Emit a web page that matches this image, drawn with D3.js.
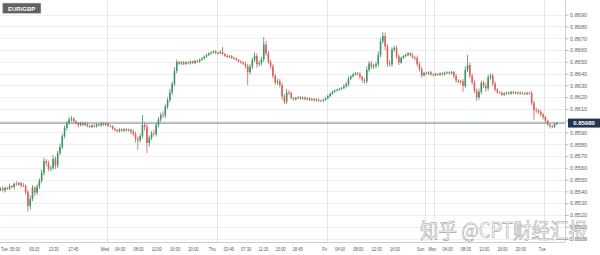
<!DOCTYPE html>
<html>
<head>
<meta charset="utf-8">
<script src="https://cdnjs.cloudflare.com/ajax/libs/d3/7.8.5/d3.min.js"></script>
<style>
  body { margin: 0; background: #fff; }
  svg { display: block; font-family: 'Liberation Sans', Arial, sans-serif; }
</style>
</head>
<body>
<div id="chart"></div>
<script>
var symbol = 'EUR/GBP'
var watermark = '知乎 @CPT财经汇报'

// 30 minute candles, Tue 00:00 .. Tue 02:30 (weekend removed)
var firstOpen = 0.85410
var closes = [
  0.85412, 0.85425, 0.85410, 0.85430, 0.85422, 0.85445, 0.85436, 0.85465, 0.85458, 0.85470,
  0.85450, 0.85448, 0.85394, 0.85276, 0.85336, 0.85433, 0.85390, 0.85441, 0.85491, 0.85555,
  0.85656, 0.85641, 0.85592, 0.85600, 0.85676, 0.85619, 0.85726, 0.85777, 0.85870, 0.85939,
  0.85977, 0.86011, 0.86019, 0.85995, 0.85977, 0.85962, 0.85980, 0.85964, 0.85972, 0.85954,
  0.85947, 0.85960, 0.85952, 0.85968, 0.85960, 0.85976, 0.85965, 0.85974, 0.85958, 0.85953,
  0.85932, 0.85920, 0.85910, 0.85926, 0.85916, 0.85928, 0.85918, 0.85924, 0.85907, 0.85887,
  0.85845, 0.85834, 0.85870, 0.85964, 0.85947, 0.85811, 0.85855, 0.85892, 0.85887, 0.85964,
  0.86010, 0.86049, 0.86045, 0.86121, 0.86176, 0.86240, 0.86312, 0.86422, 0.86499, 0.86484,
  0.86496, 0.86482, 0.86495, 0.86488, 0.86502, 0.86490, 0.86508, 0.86502, 0.86518, 0.86529,
  0.86544, 0.86558, 0.86571, 0.86579, 0.86588, 0.86574, 0.86575, 0.86585, 0.86566, 0.86552,
  0.86541, 0.86548, 0.86534, 0.86526, 0.86516, 0.86503, 0.86494, 0.86483, 0.86463, 0.86412,
  0.86459, 0.86516, 0.86551, 0.86480, 0.86489, 0.86521, 0.86647, 0.86572, 0.86499, 0.86461,
  0.86380, 0.86325, 0.86336, 0.86303, 0.86207, 0.86162, 0.86240, 0.86237, 0.86192, 0.86181,
  0.86192, 0.86199, 0.86188, 0.86196, 0.86182, 0.86189, 0.86176, 0.86184, 0.86172, 0.86180,
  0.86171, 0.86170, 0.86178, 0.86190, 0.86209, 0.86229, 0.86246, 0.86256, 0.86263, 0.86270,
  0.86276, 0.86291, 0.86309, 0.86355, 0.86377, 0.86393, 0.86403, 0.86395, 0.86373, 0.86344,
  0.86335, 0.86431, 0.86486, 0.86460, 0.86464, 0.86480, 0.86558, 0.86674, 0.86719, 0.86630,
  0.86486, 0.86478, 0.86605, 0.86618, 0.86546, 0.86493, 0.86534, 0.86548, 0.86558, 0.86572,
  0.86555, 0.86538, 0.86533, 0.86480, 0.86437, 0.86385, 0.86405, 0.86400, 0.86410, 0.86392,
  0.86388, 0.86396, 0.86390, 0.86402, 0.86394, 0.86406, 0.86410, 0.86402, 0.86413, 0.86380,
  0.86341, 0.86329, 0.86335, 0.86295, 0.86431, 0.86473, 0.86381, 0.86325, 0.86254, 0.86198,
  0.86244, 0.86320, 0.86295, 0.86275, 0.86369, 0.86381, 0.86314, 0.86266, 0.86240, 0.86238,
  0.86220, 0.86231, 0.86239, 0.86230, 0.86244, 0.86236, 0.86240, 0.86230, 0.86238, 0.86232,
  0.86228, 0.86236, 0.86235, 0.86151, 0.86091, 0.86087, 0.86074, 0.86054, 0.86030, 0.86000,
  0.85967, 0.85953, 0.85947, 0.85972, 0.85980
]
// wick length beyond the body, in pips
var upperWicks = [
  1, 1, 2, 1, 1, 2, 1, 1, 2, 1,  1, 2, 1, 2, 3, 2, 1, 2, 2, 3,
  3, 2, 2, 2, 3, 2, 2, 3, 2, 2,  2, 2, 2, 1, 1, 1, 1, 1, 2, 1,
  1, 1, 1, 1, 1, 1, 1, 1, 1, 1,  1, 1, 1, 1, 1, 1, 1, 1, 1, 2,
  2, 2, 2, 8.5, 2, 3, 2, 2, 3, 2,  2, 2, 3, 2, 2, 3, 2, 3, 2, 1,
  1, 1, 1, 1, 1, 1, 1, 1, 1, 1,  1, 1, 1, 1, 1, 1, 1, 1, 4, 1,
  1, 1, 1, 1, 1, 1, 1, 1, 2, 2,  2, 2, 3, 2, 2, 2, 6.4, 3, 2, 2,
  2, 2, 2, 2, 2, 2, 3, 2, 1, 1,  1, 1, 1, 1, 1, 1, 1, 1, 1, 1,
  1, 1, 1, 1, 1, 1, 1, 1, 1, 1,  1, 2, 2, 2, 1, 1, 1, 1, 2, 1,
  2, 3, 2, 2, 2, 2, 3, 3, 3.4, 3,  2, 3, 2, 2, 2, 2, 1, 1, 1, 1,
  1, 2, 1, 2, 2, 2, 1, 1, 1, 1,  1, 1, 1, 1, 1, 1, 1, 1, 1, 1,
  2, 1, 1, 2, 3, 8.5, 2, 2, 2, 2,  3, 2, 2, 3, 2, 2, 2, 2, 1, 1,
  1, 1, 1, 1, 1, 1, 1, 1, 1, 1,  1, 1, 1, 2, 2, 2, 1, 2, 1, 1,
  1, 1, 1, 1, 1
]
var lowerWicks = [
  1, 1, 1, 2, 1, 1, 1, 2, 1, 1,  2, 1, 2, 5, 3, 2, 3, 2, 2, 2,
  2, 3, 2, 2, 2, 3, 2, 2, 2, 2,  2, 1, 2, 1, 1, 2, 1, 1, 1, 1,
  1, 1, 1, 1, 1, 1, 1, 1, 1, 1,  1, 1, 1, 1, 1, 1, 1, 1, 2, 2,
  3, 8, 2, 2, 3, 8.5, 3, 2, 2, 2,  2, 2, 2, 2, 2, 2, 2, 2, 2, 1,
  1, 1, 1, 1, 1, 1, 1, 1, 1, 1,  1, 1, 1, 1, 1, 1, 1, 1, 1, 1,
  1, 1, 1, 1, 1, 1, 1, 1, 2, 11,  2, 2, 2, 3, 2, 2, 2, 2, 2, 2,
  2, 2, 2, 2, 3, 2, 2, 2, 1, 1,  1, 1, 1, 1, 1, 1, 1, 1, 1, 1,
  1, 1, 1, 1, 1, 1, 1, 1, 1, 1,  1, 1, 1, 2, 1, 1, 1, 1, 2, 2,
  2, 2, 2, 2, 2, 2, 2, 2, 2, 3,  3, 2, 2, 2, 2, 2, 1, 1, 1, 1,
  1, 1, 2, 2, 2, 2, 1, 1, 1, 1,  1, 1, 1, 1, 1, 1, 1, 1, 1, 2,
  2, 1, 2, 5, 2, 2, 2, 2, 2, 3,  2, 2, 2, 3, 2, 2, 2, 2, 1, 1,
  1, 1, 1, 1, 1, 1, 1, 1, 1, 1,  1, 1, 1, 2, 8.5, 2, 2, 2, 2, 2,
  1, 2, 1, 1, 1
]

var yTicks = [0.8500, 0.8510, 0.8520, 0.8530, 0.8540, 0.8550, 0.8560, 0.8570, 0.8580, 0.8590,
  0.8600, 0.8610, 0.8620, 0.8630, 0.8640, 0.8650, 0.8660, 0.8670, 0.8680, 0.8690]

// positions in trading hours from Tue 00:00
var xTickLabels = ['Tue', '05:00', '09:15', '13:30', '17:45',
  'Wed', '04:00', '08:00', '12:00', '16:00', '20:00',
  'Thu', '03:45', '07:30', '11:15', '15:00', '18:45',
  'Fri', '04:00', '08:00', '12:00', '16:00',
  'Sun', 'Mon', '04:00', '08:00', '12:00', '16:00', '20:00', 'Tue']
var xTickHours = [0, 5, 9.25, 13.5, 17.75,
  24, 28, 32, 36, 40, 44,
  48, 51.75, 55.5, 59.25, 63, 66.75,
  72, 76, 80, 84, 88,
  93.5, 95.5, 99.5, 103.5, 107.5, 111.5, 115.5, 119.5]
var dayStartHours = [24, 48, 72, 93.5, 95.5, 119.5]

var candleHours = 0.5
var pip = 0.0001

var width = 600
var height = 255
var plotRight = 565
var plotBottom = 242

var svg = d3.select('#chart')
  .append('svg')
  .attr('width', width)
  .attr('height', height)

var x = d3.scaleLinear()
  .domain([0, 122.5])
  .range([-3, 558])

var y = d3.scaleLinear()
  .domain([0.8500, 0.8690])
  .range([238.5, 14.7])

svg.append('defs').append('clipPath')
  .attr('id', 'plot')
  .append('rect')
  .attr('width', plotRight)
  .attr('height', plotBottom)

// grid
svg.append('g')
  .selectAll('line')
  .data(yTicks)
  .enter()
  .append('line')
  .attr('x1', 0)
  .attr('x2', plotRight)
  .attr('y1', function (d) { return Math.round(y(d)) + 0.5 })
  .attr('y2', function (d) { return Math.round(y(d)) + 0.5 })
  .attr('stroke', '#efefef')

svg.append('g')
  .selectAll('line')
  .data(dayStartHours)
  .enter()
  .append('line')
  .attr('x1', function (d) { return Math.round(x(d)) + 0.5 })
  .attr('x2', function (d) { return Math.round(x(d)) + 0.5 })
  .attr('y1', 0)
  .attr('y2', plotBottom)
  .attr('stroke', '#e6e6e6')

// candles
var candles = closes.map(function (c, i) {
  var o = i === 0 ? firstOpen : closes[i - 1]
  return {
    t: i * candleHours,
    open: o,
    close: c,
    high: Math.max(o, c) + upperWicks[i] * pip,
    low: Math.min(o, c) - lowerWicks[i] * pip
  }
})

var step = x(candleHours) - x(0)
var bodyWidth = step * 0.7

var candleG = svg.append('g').attr('clip-path', 'url(#plot)')
var g = candleG.selectAll('g')
  .data(candles)
  .enter()
  .append('g')

function candleColor (d) {
  return d.close >= d.open ? '#3d9466' : '#d6625a'
}

g.append('rect')
  .attr('x', function (d) { return x(d.t + candleHours / 2) - 0.4 })
  .attr('width', 0.8)
  .attr('y', function (d) { return y(d.high) })
  .attr('height', function (d) { return y(d.low) - y(d.high) })
  .attr('fill', candleColor)

g.append('rect')
  .attr('x', function (d) { return x(d.t + candleHours / 2) - bodyWidth / 2 })
  .attr('width', bodyWidth)
  .attr('y', function (d) { return y(Math.max(d.open, d.close)) })
  .attr('height', function (d) {
    return Math.max(0.8, Math.abs(y(d.open) - y(d.close)))
  })
  .attr('fill', candleColor)

// last price line
var last = closes[closes.length - 1]
svg.append('line')
  .attr('x1', 0)
  .attr('x2', plotRight)
  .attr('y1', y(last))
  .attr('y2', y(last))
  .attr('stroke', '#6f7f8f')
  .attr('stroke-width', 1)

// right axis
var yAxis = svg.append('g')
  .attr('transform', 'translate(' + (plotRight + 0.5) + ',0)')
  .call(d3.axisRight(y).tickValues(yTicks).tickSize(3).tickPadding(1.5)
    .tickFormat(d3.format('.4f')))
yAxis.select('.domain').attr('stroke', '#cfcfcf').attr('d', 'M0,0V' + plotBottom)
yAxis.selectAll('.tick line').attr('stroke', '#bbb')
yAxis.selectAll('text')
  .attr('fill', '#666')
  .style('font-size', '5.6px')

// bottom axis
svg.append('line')
  .attr('x1', 0)
  .attr('x2', plotRight)
  .attr('y1', plotBottom + 0.5)
  .attr('y2', plotBottom + 0.5)
  .attr('stroke', '#cfcfcf')

function isDay (label) {
  return label.indexOf(':') < 0
}

svg.append('g')
  .selectAll('text')
  .data(xTickHours)
  .enter()
  .append('text')
  .attr('x', function (d, i) {
    if (x(d) < 8) return 1
    if (isDay(xTickLabels[i])) {
      // a day that closes within a few hours is pushed left of its line
      if (xTickHours[i + 1] - d < 4) return x(d) - 1
      return x(d) - 2
    }
    return x(d)
  })
  .attr('y', 251)
  .attr('text-anchor', function (d, i) {
    if (x(d) < 8) return 'start'
    if (isDay(xTickLabels[i]) && !(xTickHours[i + 1] - d < 4)) return 'middle'
    return 'end'
  })
  .attr('fill', '#555')
  .style('font-size', '5.2px')
  .text(function (d, i) { return xTickLabels[i] })
  .each(function () {
    var w = this.getComputedTextLength()
    d3.select(this)
      .attr('textLength', w * 0.78)
      .attr('lengthAdjust', 'spacingAndGlyphs')
  })

// price tag
var tag = svg.append('g')
  .attr('transform', 'translate(568,' + (y(last) - 4.5) + ')')
tag.append('rect')
  .attr('width', 32)
  .attr('height', 9)
  .attr('fill', '#24364f')
tag.append('text')
  .attr('x', 16)
  .attr('y', 6.7)
  .attr('text-anchor', 'middle')
  .attr('fill', '#fff')
  .style('font-size', '6px')
  .style('font-weight', 'bold')
  .text(d3.format('.5f')(last))

// symbol box
var sym = svg.append('g').attr('transform', 'translate(2.5,3)')
sym.append('rect')
  .attr('width', 38.5)
  .attr('height', 10.5)
  .attr('fill', '#626262')
  .attr('stroke', '#d8d8d8')
  .attr('stroke-width', 0.6)
sym.append('text')
  .attr('x', 19.2)
  .attr('y', 7.6)
  .attr('text-anchor', 'middle')
  .attr('fill', '#fff')
  .style('font-size', '6px')
  .style('font-weight', 'bold')
  .text(symbol)

// watermark
svg.append('text')
  .attr('x', 420)
  .attr('y', 238)
  .attr('textLength', 167)
  .attr('lengthAdjust', 'spacingAndGlyphs')
  .attr('fill', 'rgba(255,255,255,0.55)')
  .attr('stroke', '#a3a3a3')
  .attr('stroke-width', 0.6)
  .style('font-family', "'Noto Sans CJK SC', sans-serif")
  .style('font-size', '21px')
  .text(watermark)
</script>
</body>
</html>
